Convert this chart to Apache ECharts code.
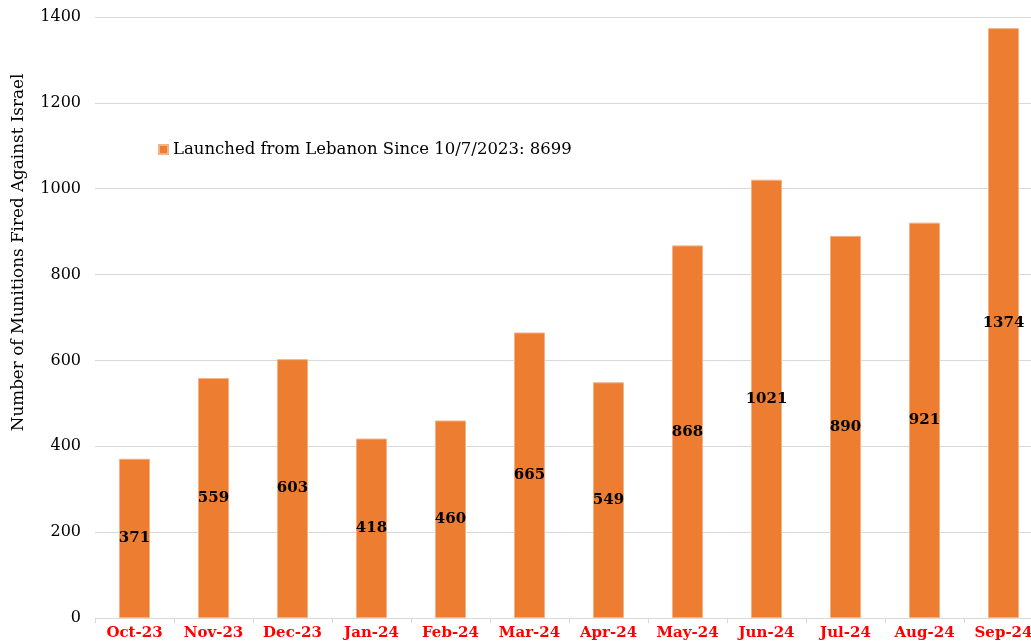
<!DOCTYPE html>
<html><head><meta charset="utf-8">
<script src="https://cdn.jsdelivr.net/npm/echarts@6/dist/echarts.min.js"></script>
<style>html,body{margin:0;padding:0;background:#fff}#c{width:1031px;height:644px}</style>
</head><body><div id="c"></div>
<script>
const categories = ['Oct-23','Nov-23','Dec-23','Jan-24','Feb-24','Mar-24','Apr-24','May-24','Jun-24','Jul-24','Aug-24','Sep-24'];
const values = [371,559,603,418,460,665,549,868,1021,890,921,1374];
const seriesName = 'Launched from Lebanon Since 10/7/2023: 8699';
const yTitle = 'Number of Munitions Fired Against Israel';
const FONT = 'DejaVu Serif';
const chart = echarts.init(document.getElementById('c'));
chart.setOption({
  animation:false,
  textStyle:{fontFamily:FONT},
  grid:{left:95,width:948,top:17,height:601,containLabel:false,outerBoundsMode:'none'},
  legend:{show:true,left:153,top:136,itemWidth:9,itemHeight:9,icon:'rect',itemGap:3,
    textStyle:{fontFamily:FONT,fontSize:16.5,color:'#000'},data:[seriesName]},
  xAxis:{type:'category',data:categories,
    axisLine:{lineStyle:{color:'#d9d9d9'}},
    axisTick:{show:true,alignWithLabel:false,length:5,lineStyle:{color:'#d9d9d9'}},
    axisLabel:{interval:0,color:'#ff0000',fontWeight:'bold',fontSize:15,fontFamily:FONT,margin:8}},
  yAxis:{type:'value',min:0,max:1400,interval:200,
    name:yTitle,nameLocation:'middle',nameGap:68,nameRotate:90,
    nameTextStyle:{fontFamily:FONT,fontSize:16.8,color:'#000',padding:[0,0,0,130]},
    axisLine:{show:false},axisTick:{show:false},
    axisLabel:{color:'#000',fontSize:16,fontFamily:FONT,margin:14,formatter:v=>String(v)},
    splitLine:{lineStyle:{color:'#d9d9d9'}}},
  series:[{name:seriesName,type:'bar',data:values,barWidth:31,
    itemStyle:{color:'#ED7D31',borderColor:'#F4B183',borderWidth:1},
    label:{show:true,position:'inside',color:'#000',fontSize:15,fontWeight:'bold',fontFamily:FONT}}]
});
</script></body></html>
